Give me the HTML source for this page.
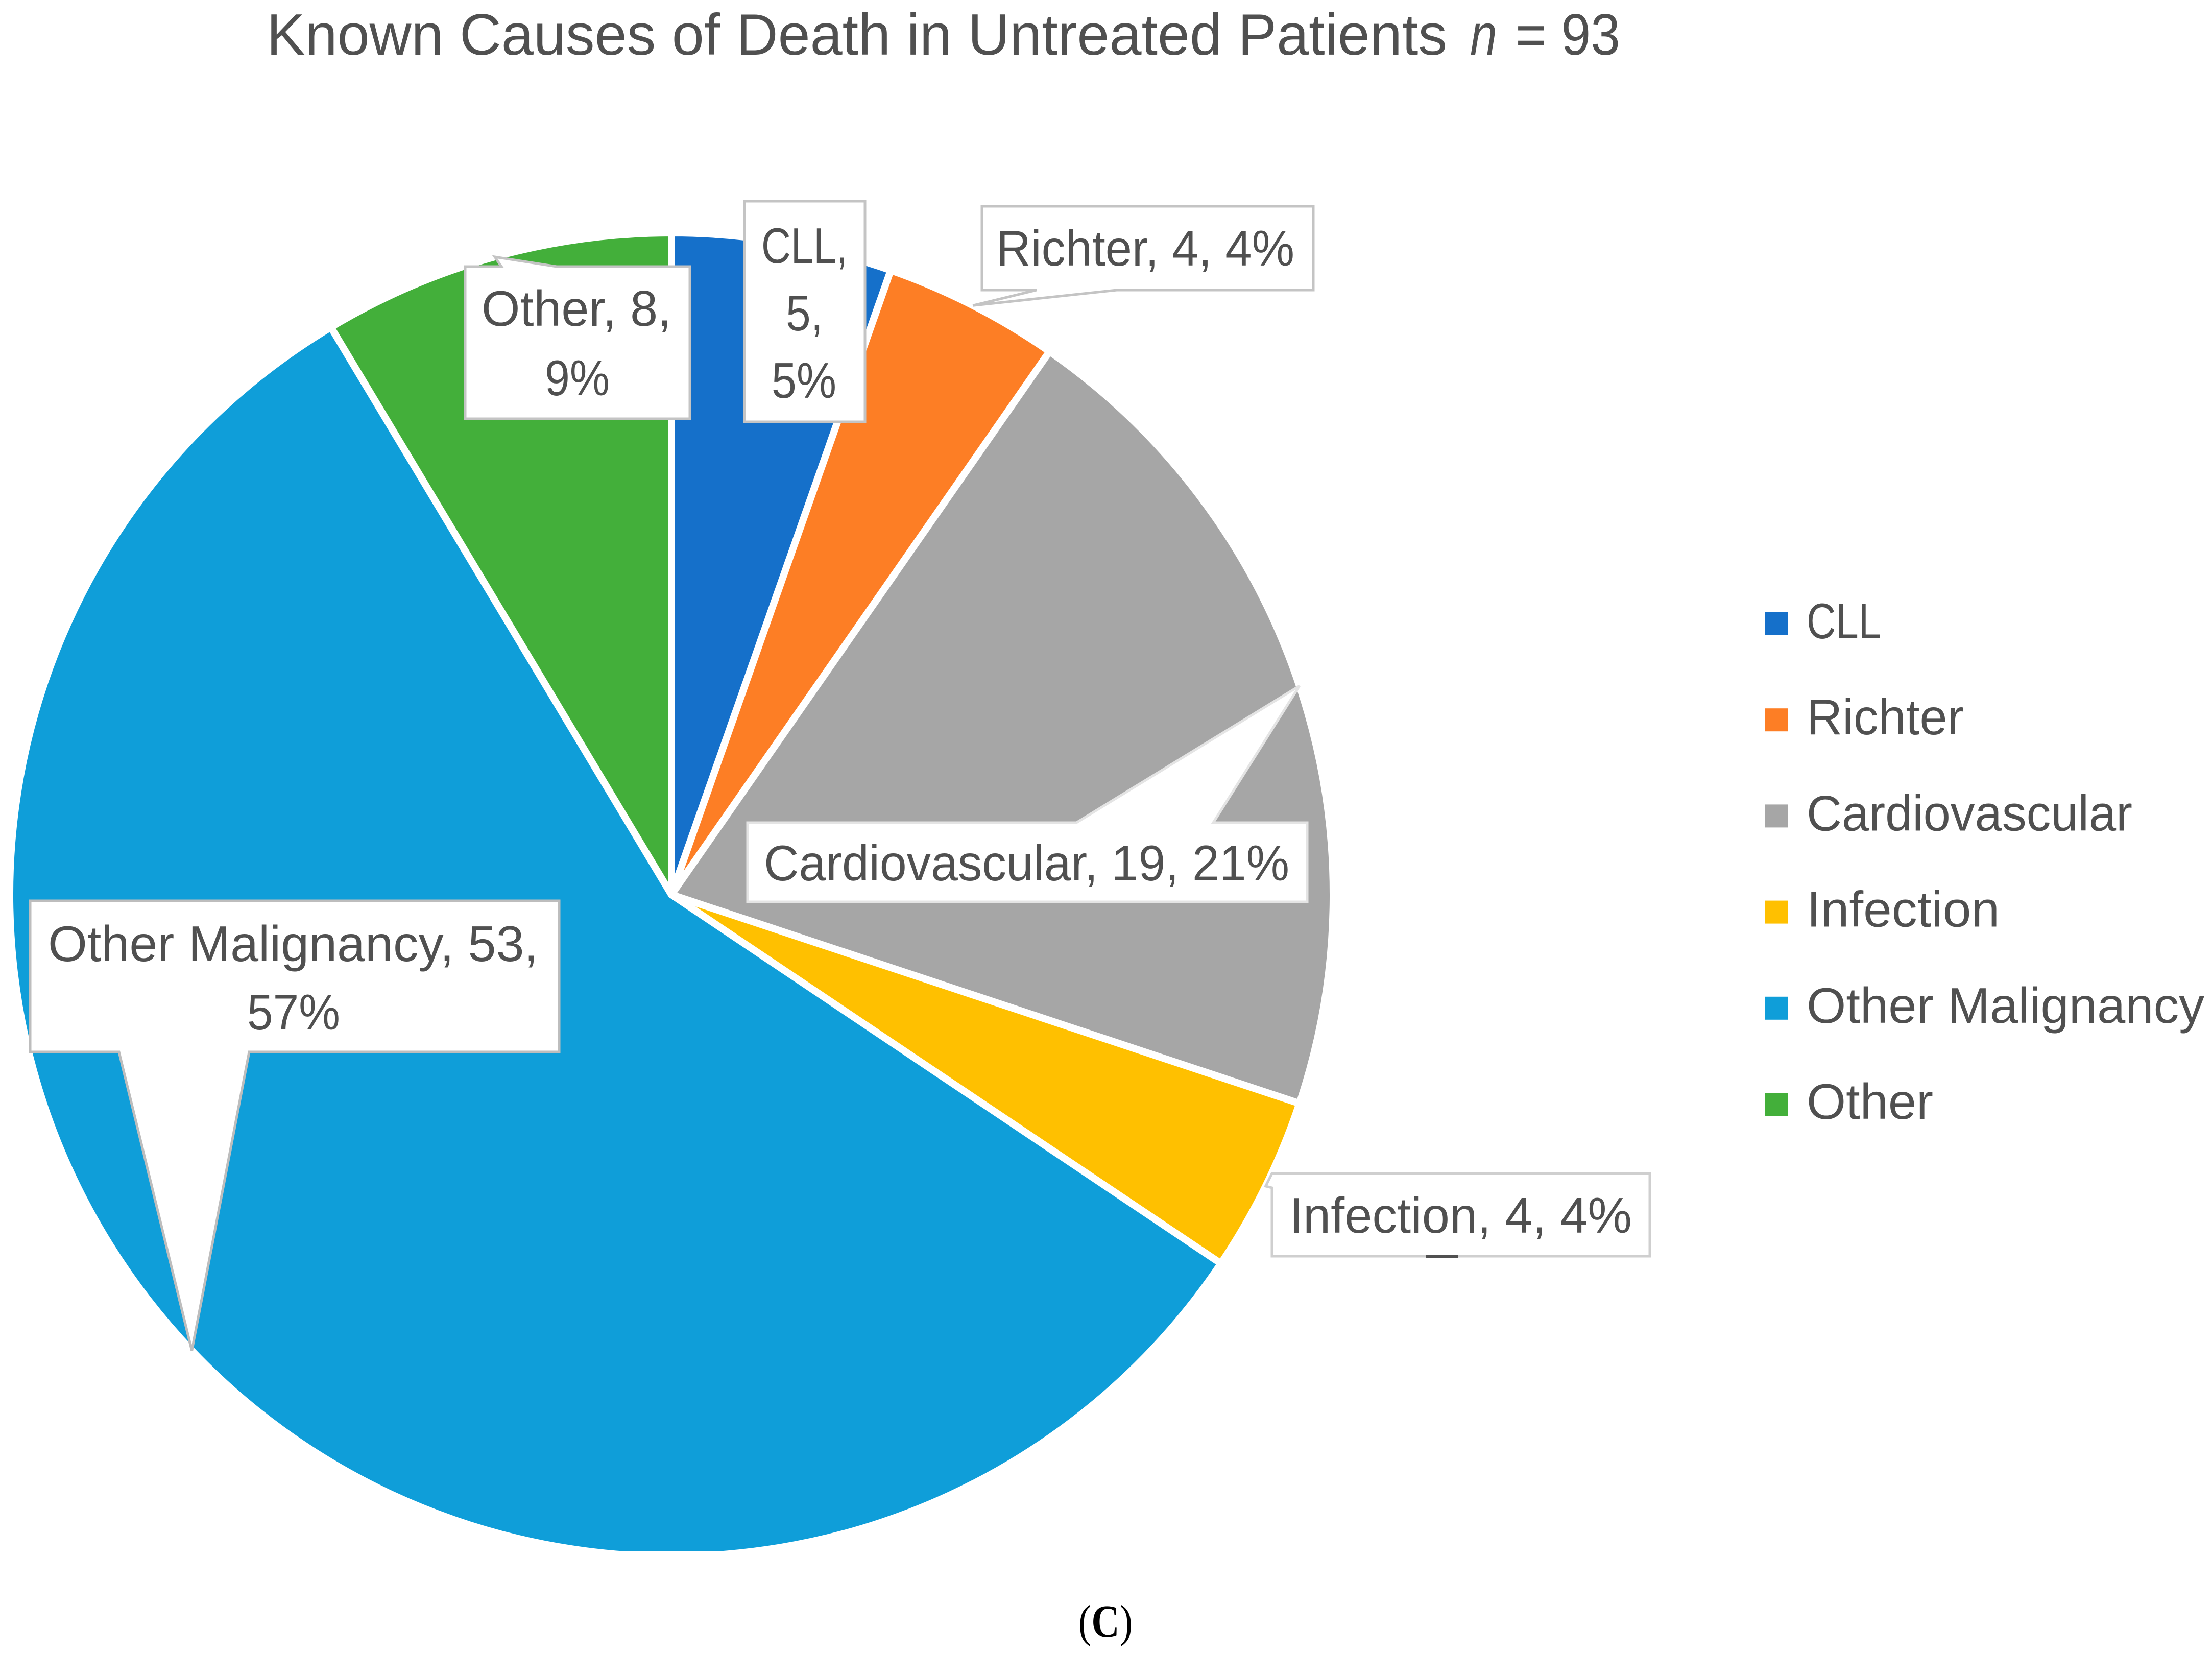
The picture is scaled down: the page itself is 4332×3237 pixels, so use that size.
<!DOCTYPE html>
<html lang="en">
<head>
<meta charset="utf-8">
<title>Known Causes of Death in Untreated Patients</title>
<style>
  html, body { margin: 0; padding: 0; background: #fff; }
  body { width: 4332px; height: 3237px; overflow: hidden; }
  svg { display: block; }
  text { font-family: "Liberation Sans", "DejaVu Sans", sans-serif; fill: #505050; }
</style>
</head>
<body>
<svg id="chart" xmlns="http://www.w3.org/2000/svg" width="4332" height="3237" viewBox="0 0 4332 3237">
  <defs>
    <clipPath id="pie-clip"><rect x="0" y="0" width="4332" height="3038"/></clipPath>
  </defs>
  <rect x="0" y="0" width="4332" height="3237" fill="#ffffff"/>
  <g>
    <text x="522" y="107" font-size="114" textLength="2312" lengthAdjust="spacingAndGlyphs">Known Causes of Death in Untreated Patients</text>
    <text x="2879" y="107" font-size="114" font-style="italic" textLength="53" lengthAdjust="spacingAndGlyphs">n</text>
    <text x="2968" y="107" font-size="114" textLength="205" lengthAdjust="spacingAndGlyphs">= 93</text>
  </g>
  <g id="slices" clip-path="url(#pie-clip)"></g>
  <g id="callouts"></g>
  <rect x="2792" y="2457" width="63" height="6" fill="#505050"/>
  <g id="legend"></g>
  <text x="2112" y="3205" font-size="90" textLength="106" lengthAdjust="spacingAndGlyphs" style="font-family:'Liberation Serif',serif;fill:#000">(<tspan font-weight="bold">C</tspan>)</text>
</svg>
<script>
// Chart data
const categories = ["CLL", "Richter", "Cardiovascular", "Infection", "Other Malignancy", "Other"];
const counts = [5, 4, 19, 4, 53, 8];
const percents = [5, 4, 21, 4, 57, 9];
const colors = ["#1570ca", "#fd7e25", "#a6a6a6", "#ffc000", "#0f9ed9", "#43af3a"];

// Geometry
const SVG_NS = "http://www.w3.org/2000/svg";
const pie = { cx: 1315, cy: 1752, r: 1296 };
const total = counts.reduce(function (a, b) { return a + b; }, 0);

function angleOf(value) { return value / total * 2 * Math.PI; }
function polar(angle, radius) {
  return [pie.cx + radius * Math.sin(angle), pie.cy - radius * Math.cos(angle)];
}
function make(tag, attrs) {
  const el = document.createElementNS(SVG_NS, tag);
  Object.keys(attrs).forEach(function (k) { el.setAttribute(k, attrs[k]); });
  return el;
}
function slug(s) { return s.toLowerCase().replace(/\s+/g, "-"); }

// Callout boxes: placement of each label box, pointer base and text lines
const calloutLayout = [
  { box: [1458, 394, 1694, 826], border: "#c4c4c4", lines: [
      { parts: [0], x: 1491, y: 515, w: 169 },
      { parts: [1], x: 1539, y: 647, w: 73 },
      { parts: [2], x: 1511, y: 779, w: 127 } ] },
  { box: [1923, 404, 2572, 568], border: "#c4c4c4", side: "bottom", base: [2030, 2187], lines: [
      { parts: [0, 1, 2], x: 1951, y: 520, w: 584 } ] },
  { box: [1464, 1611, 2560, 1766], border: "#e4e4e4", side: "top", base: [2108, 2376], lines: [
      { parts: [0, 1, 2], x: 1496, y: 1724, w: 1029 } ] },
  { box: [2491, 2298, 3231, 2460], border: "#cfcfcf", side: "left", base: [2298, 2326], lines: [
      { parts: [0, 1, 2], x: 2525, y: 2414, w: 671 } ] },
  { box: [59, 1764, 1095, 2060], border: "#bdbdbd", side: "bottom", base: [233, 488], lines: [
      { parts: [0, 1], x: 94, y: 1882, w: 960 },
      { parts: [2], x: 484, y: 2016, w: 182 } ] },
  { box: [911, 522, 1351, 820], border: "#c4c4c4", side: "top", base: [982, 1090], lines: [
      { parts: [0, 1], x: 943, y: 638, w: 372 },
      { parts: [2], x: 1067, y: 774, w: 127 } ] }
];

const legendLayout = { swatchX: 3456, swatchSize: 46, swatchH: 45, textX: 3538, top: 1199, step: 188.2, baselineOffset: 51 };
const legendWidths = [146, 308, 638, 378, 779, 248];

function calloutPath(layout, tip) {
  const b = layout.box, l = b[0], t = b[1], r = b[2], bt = b[3];
  let pts = [[l, t]];
  if (layout.side === "top") pts.push([layout.base[0], t], tip, [layout.base[1], t]);
  pts.push([r, t], [r, bt]);
  if (layout.side === "bottom") pts.push([layout.base[1], bt], tip, [layout.base[0], bt]);
  pts.push([l, bt]);
  if (layout.side === "left") pts.push([l, layout.base[1]], tip, [l, layout.base[0]]);
  return "M" + pts.map(function (p) { return p[0].toFixed(1) + " " + p[1].toFixed(1); }).join("L") + "Z";
}

// Draw slices
const slicesGroup = document.getElementById("slices");
const calloutsGroup = document.getElementById("callouts");
const legendGroup = document.getElementById("legend");
let running = 0;
categories.forEach(function (name, i) {
  const a0 = angleOf(running);
  const a1 = angleOf(running + counts[i]);
  const mid = (a0 + a1) / 2;
  running += counts[i];
  const p0 = polar(a0, pie.r);
  const p1 = polar(a1, pie.r);
  const large = a1 - a0 > Math.PI ? 1 : 0;
  const slice = make("path", {
    d: "M" + pie.cx + " " + pie.cy + "L" + p0[0] + " " + p0[1] +
       "A" + pie.r + " " + pie.r + " 0 " + large + " 1 " + p1[0] + " " + p1[1] + "Z",
    fill: colors[i], stroke: "#ffffff", "stroke-width": 14, "stroke-linejoin": "round"
  });
  
  
  slicesGroup.appendChild(slice);

  // Callout
  const layout = calloutLayout[i];
  const tip = polar(mid, pie.r);
  const group = make("g", {});
  
  
  const shape = make("path", {
    d: calloutPath(layout, tip), fill: "#ffffff", stroke: layout.border,
    "stroke-width": 5, "stroke-linejoin": "miter"
  });
  
  
  group.appendChild(shape);
  const parts = [name + ",", counts[i] + ",", percents[i] + "%"];
  layout.lines.forEach(function (line) {
    const txt = make("text", {
      x: line.x, y: line.y, "font-size": 98,
      textLength: line.w, lengthAdjust: "spacingAndGlyphs"
    });
    
    
    txt.textContent = line.parts.map(function (k) { return parts[k]; }).join(" ");
    group.appendChild(txt);
  });
  calloutsGroup.appendChild(group);

  // Legend
  const y = legendLayout.top + i * legendLayout.step;
  const entry = make("g", {});
  
  
  const swatch = make("rect", {
    x: legendLayout.swatchX, y: y,
    width: legendLayout.swatchSize, height: legendLayout.swatchH, fill: colors[i]
  });
  
  
  entry.appendChild(swatch);
  const label = make("text", {
    x: legendLayout.textX, y: y + legendLayout.baselineOffset, "font-size": 98,
    textLength: legendWidths[i], lengthAdjust: "spacingAndGlyphs"
  });
  
  
  label.textContent = name;
  entry.appendChild(label);
  legendGroup.appendChild(entry);
});
</script>
</body>
</html>
